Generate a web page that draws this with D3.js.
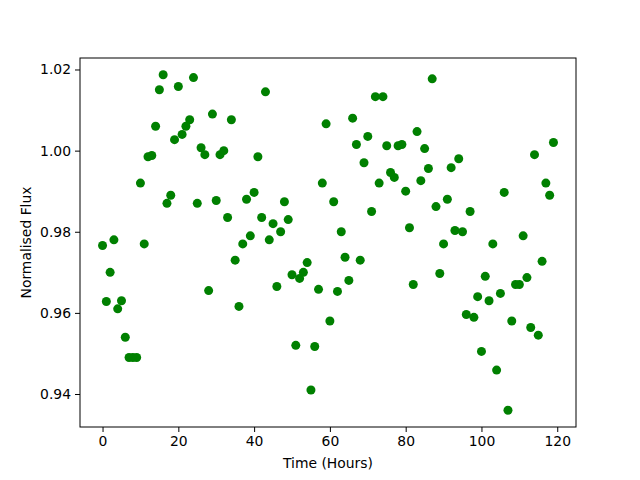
<!DOCTYPE html>
<html>
<head>
<meta charset="utf-8">
<script src="https://cdn.jsdelivr.net/npm/d3@7"></script>
<style>
  body { margin: 0; background: #fff; }
  svg { font-family: "DejaVu Sans", sans-serif; }
</style>
</head>
<body>
<div id="chart"></div>
<script>
// hours 0..119
const hours = d3.range(0, 120);
const flux = [
  0.9766, 0.9628, 0.9700, 0.9780, 0.9610, 0.9630, 0.9540, 0.9490, 0.9490, 0.9490,
  0.9920, 0.9770, 0.9985, 0.9988, 1.0060, 1.0150, 1.0187, 0.9870, 0.9890, 1.0027,
  1.0158, 1.0040, 1.0060, 1.0076, 1.0180, 0.9870, 1.0007, 0.9990, 0.9655, 1.0090,
  0.9877, 0.9990, 1.0000, 0.9835, 1.0076, 0.9730, 0.9616, 0.9770, 0.9880, 0.9790,
  0.9897, 0.9985, 0.9835, 1.0145, 0.9780, 0.9820, 0.9665, 0.9800, 0.9874, 0.9830,
  0.9694, 0.9520, 0.9685, 0.9700, 0.9724, 0.9410, 0.9517, 0.9658, 0.9920, 1.0066,
  0.9580, 0.9874, 0.9653, 0.9800, 0.9737, 0.9680, 1.0080, 1.0015, 0.9730, 0.9970,
  1.0035, 0.9850, 1.0133, 0.9920, 1.0133, 1.0012, 0.9946, 0.9934, 1.0012, 1.0015,
  0.9900, 0.9810, 0.9670, 1.0047, 0.9926, 1.0005, 0.9956, 1.0177, 0.9862, 0.9697,
  0.9770, 0.9880, 0.9958, 0.9803, 0.9980, 0.9800, 0.9596, 0.9850, 0.9589, 0.9640,
  0.9505, 0.9690, 0.9630, 0.9770, 0.9459, 0.9648, 0.9897, 0.9360, 0.9580, 0.9670,
  0.9670, 0.9790, 0.9687, 0.9564, 0.9990, 0.9545, 0.9727, 0.9920, 0.9890, 1.0020
];
const xTicks = [0, 20, 40, 60, 80, 100, 120];
const yTicks = [0.94, 0.96, 0.98, 1.00, 1.02];

const width = 640, height = 480;
const margin = { top: 58, right: 64, bottom: 53, left: 80 };
const w = width - margin.left - margin.right;
const h = height - margin.top - margin.bottom;

const svg = d3.select('#chart').append('svg')
  .attr('width', width)
  .attr('height', height);

const g = svg.append('g')
  .attr('transform', `translate(${margin.left},${margin.top})`);

// matplotlib-style 5% margins
const xPad = (d3.max(hours) - d3.min(hours)) * 0.05;
const yExt = d3.extent(flux);
const yPad = (yExt[1] - yExt[0]) * 0.05;

const x = d3.scaleLinear()
  .domain([d3.min(hours) - xPad, d3.max(hours) + xPad])
  .range([0, w]);

const y = d3.scaleLinear()
  .domain([yExt[0] - yPad, yExt[1] + yPad])
  .range([h, 0]);

// points
g.selectAll('circle.pt')
  .data(hours)
  .enter().append('circle')
  .attr('class', 'pt')
  .attr('cx', (d) => x(d))
  .attr('cy', (d, i) => y(flux[i]))
  .attr('r', 4.5)
  .style('fill', '#008000');

// axes
const xAxis = g.append('g')
  .attr('transform', `translate(0,${h})`)
  .call(d3.axisBottom(x).tickValues(xTicks).tickSize(5).tickPadding(4).tickFormat(d3.format('d')));

const yAxis = g.append('g')
  .call(d3.axisLeft(y).tickValues(yTicks).tickSize(5).tickPadding(4).tickFormat(d3.format('.2f')));

[xAxis, yAxis].forEach((a) => {
  a.select('.domain').remove();
  a.selectAll('text').style('font-size', '13.9px').style('fill', '#000').style('font-family', '"DejaVu Sans", sans-serif');
  a.selectAll('line').style('stroke', '#000').style('stroke-width', 1);
});

// frame
g.append('rect')
  .attr('x', 0).attr('y', 0)
  .attr('width', w).attr('height', h)
  .style('fill', 'none')
  .style('stroke', '#000')
  .style('stroke-width', 1);

// labels
svg.append('text')
  .attr('x', margin.left + w / 2)
  .attr('y', 468)
  .attr('text-anchor', 'middle')
  .style('font-size', '13.9px')
  .text('Time (Hours)');

svg.append('text')
  .attr('transform', `translate(31,${margin.top + h / 2}) rotate(-90)`)
  .attr('text-anchor', 'middle')
  .style('font-size', '13.9px')
  .text('Normalised Flux');
</script>
</body>
</html>
